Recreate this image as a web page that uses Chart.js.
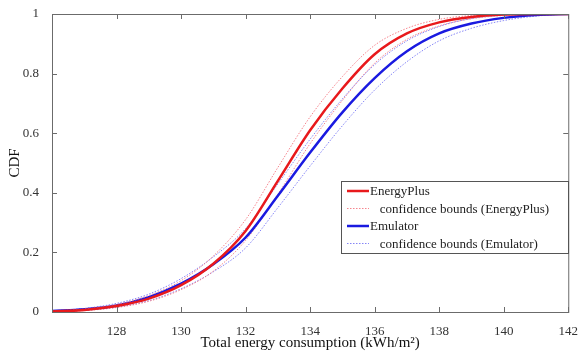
<!DOCTYPE html>
<html>
<head>
<meta charset="utf-8">
<script src="https://cdn.jsdelivr.net/npm/chart.js@4"></script>
<style>
  html, body { margin: 0; padding: 0; background: #fff; }
  #wrap { width: 582px; height: 354px; position: relative; }
</style>
</head>
<body>
<div id="wrap"><canvas id="cdf"></canvas></div>
<script>
(function() {
    'use strict';

    // energy consumption (kWh/m2)
    const energy = [126, 127, 128, 129, 130, 131, 132, 133, 134, 135, 136, 137, 138, 139, 140, 141, 142];

    const energyPlus   = [0.002, 0.007, 0.020, 0.045, 0.090, 0.162, 0.272, 0.440, 0.610, 0.750, 0.865, 0.935, 0.972, 0.990, 0.998, 1, 1];
    const epUpper      = [0.003, 0.010, 0.025, 0.055, 0.105, 0.188, 0.310, 0.485, 0.655, 0.790, 0.895, 0.952, 0.982, 0.995, 1, 1, 1];
    const epLower      = [0.001, 0.005, 0.015, 0.036, 0.075, 0.137, 0.240, 0.395, 0.565, 0.710, 0.835, 0.915, 0.960, 0.984, 0.995, 0.999, 1];

    const emulator     = [0.003, 0.009, 0.022, 0.050, 0.095, 0.160, 0.250, 0.390, 0.535, 0.670, 0.785, 0.875, 0.935, 0.968, 0.987, 0.997, 1];
    const emUpper      = [0.004, 0.012, 0.029, 0.060, 0.112, 0.185, 0.280, 0.430, 0.580, 0.715, 0.830, 0.910, 0.958, 0.985, 0.996, 1, 1];
    const emLower      = [0.002, 0.006, 0.016, 0.038, 0.078, 0.135, 0.215, 0.350, 0.490, 0.625, 0.745, 0.840, 0.910, 0.952, 0.978, 0.993, 1];

    const xTicks = [128, 130, 132, 134, 136, 138, 140, 142];
    const yTicks = [0, 0.2, 0.4, 0.6, 0.8, 1];

    const serif = '"Liberation Serif", "Times New Roman", serif';
    const red = '#e8191c';
    const blue = '#1a1ae0';
    const pink = 'rgba(245, 120, 130, 0.9)';
    const lilac = 'rgba(120, 120, 245, 0.9)';

    const pts = arr => arr.map((v, i) => ({ x: energy[i], y: v }));

    function line(label, data, color, width, dashed) {
        return {
            label,
            data: pts(data),
            borderColor: color,
            backgroundColor: color,
            borderWidth: width,
            borderDash: dashed ? [1.5, 1.5] : [],
            pointRadius: 0,
            fill: false,
            cubicInterpolationMode: 'monotone'
        };
    }

    // box, inward ticks and in-plot legend (MATLAB look)
    const matlabFrame = {
        id: 'matlabFrame',
        afterDraw(chart) {
            const c = chart.ctx;
            const a = chart.chartArea;
            const xs = chart.scales.x, ys = chart.scales.y;
            c.save();
            c.strokeStyle = '#6b6b6b';
            c.lineWidth = 1;
            c.strokeRect(a.left + 0.5, a.top + 0.5, a.right - a.left, a.bottom - a.top);
            c.beginPath();
            xTicks.forEach(v => {
                const px = Math.round(xs.getPixelForValue(v)) + 0.5;
                c.moveTo(px, a.bottom); c.lineTo(px, a.bottom - 5);
                c.moveTo(px, a.top); c.lineTo(px, a.top + 5);
            });
            yTicks.forEach(v => {
                const py = Math.round(ys.getPixelForValue(v)) + 0.5;
                c.moveTo(a.left, py); c.lineTo(a.left + 5, py);
                c.moveTo(a.right, py); c.lineTo(a.right - 5, py);
            });
            c.stroke();

            // legend
            const bx = 341, by = 181, bw = 227, bh = 72;
            c.fillStyle = '#fff';
            c.fillRect(bx, by, bw, bh);
            c.strokeStyle = '#555';
            c.strokeRect(bx + 0.5, by + 0.5, bw, bh);
            c.font = '13px ' + serif;
            c.textBaseline = 'middle';
            chart.data.datasets.filter(ds => ds.label).forEach((ds, i) => {
                const y = by + 10 + i * 17.5;
                const dashed = ds.borderDash.length > 0;
                c.beginPath();
                c.strokeStyle = ds.borderColor;
                c.lineWidth = dashed ? 1 : 2.5;
                c.setLineDash(dashed ? [1.5, 1.5] : []);
                c.moveTo(bx + 6, y); c.lineTo(bx + 28, y);
                c.stroke();
                c.setLineDash([]);
                c.fillStyle = '#222';
                c.fillText((dashed ? '   ' : '') + ds.label, bx + 29, y + 1);
            });
            c.restore();
        }
    };

    new Chart(document.getElementById('cdf'), {
        type: 'line',
        data: {
            datasets: [
                line('EnergyPlus', energyPlus, red, 2.5, false),
                line('confidence bounds (EnergyPlus)', epUpper, pink, 1, true),
                line('Emulator', emulator, blue, 2.5, false),
                line('confidence bounds (Emulator)', emUpper, lilac, 1, true),
                line('', epLower, pink, 1, true),
                line('', emLower, lilac, 1, true)
            ]
        },
        options: {
            responsive: true,
            maintainAspectRatio: false,
            animation: false,
            layout: { padding: { left: 6, top: 14, right: 10, bottom: 0 } },
            plugins: {
                legend: { display: false },
                tooltip: { enabled: false }
            },
            scales: {
                x: {
                    type: 'linear',
                    min: 126,
                    max: 142,
                    afterBuildTicks: s => { s.ticks = xTicks.map(v => ({ value: v })); },
                    afterFit: s => { s.height = 42; },
                    grid: { display: false },
                    border: { display: false },
                    ticks: { color: '#333', font: { family: serif, size: 13 }, padding: 4, maxRotation: 0 },
                    title: {
                        display: true,
                        text: 'Total energy consumption (kWh/m\u00b2)',
                        color: '#111',
                        font: { family: serif, size: 15 },
                        padding: { top: 0, bottom: 2 }
                    }
                },
                y: {
                    min: 0,
                    max: 1,
                    afterBuildTicks: s => { s.ticks = yTicks.map(v => ({ value: v })); },
                    afterFit: s => { s.width = 46; },
                    grid: { display: false },
                    border: { display: false },
                    ticks: {
                        color: '#333',
                        font: { family: serif, size: 13 },
                        padding: 5,
                        callback: v => String(v)
                    },
                    title: {
                        display: true,
                        text: 'CDF',
                        color: '#111',
                        font: { family: serif, size: 15 },
                        padding: { top: 0, bottom: 2 }
                    }
                }
            }
        },
        plugins: [matlabFrame]
    });
})();
</script>
</body>
</html>
